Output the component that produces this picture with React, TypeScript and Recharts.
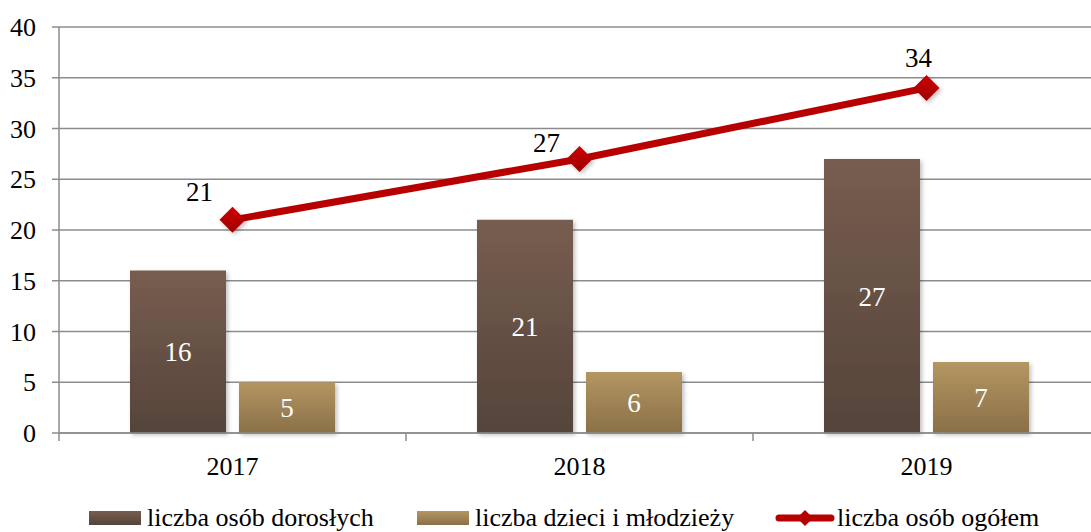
import { ComposedChart, Bar, Line, XAxis, YAxis, CartesianGrid, LabelList } from "recharts";

const years = ["2017", "2018", "2019"];
const adults = [16, 21, 27];
const youth = [5, 6, 7];
const total = [21, 27, 34];
const yTicks = [0, 5, 10, 15, 20, 25, 30, 35, 40];

const data = years.map((year, i) => ({ year, adults: adults[i], youth: youth[i], total: total[i] }));

const W = 1100;
const H = 532;
const LEFT = 59;
const BAND = (W - LEFT) / years.length;
const FONT = "Liberation Serif";
const GRID = "#8c8c8c";
const RED = "#b80000";

// where Excel put the line labels, relative to the point
const LINE_LABEL_OFFSETS = [
  { dx: -33, dy: -28 },
  { dx: -33, dy: -16 },
  { dx: -8, dy: -30 },
];

function YearTick(props: any) {
  const { x, y, payload, index } = props;
  return (
    <g>
      <line x1={x - BAND / 2} x2={x - BAND / 2} y1={y} y2={y + 8} stroke={GRID} strokeWidth={1.5} />
      {index === years.length - 1 && (
        <line x1={x + BAND / 2} x2={x + BAND / 2} y1={y} y2={y + 8} stroke={GRID} strokeWidth={1.5} />
      )}
      <text x={x} y={y + 33} textAnchor="middle" dominantBaseline="central" fontSize={26} fill="#000" style={{ fontFamily: FONT }}>
        {payload.value}
      </text>
    </g>
  );
}

function Diamond(props: any) {
  const { cx, cy } = props;
  if (cx == null || cy == null) return null;
  const r = 13;
  return (
    <polygon
      points={`${cx},${cy - r} ${cx + r},${cy} ${cx},${cy + r} ${cx - r},${cy}`}
      fill="url(#redGrad)"
      filter="url(#shadow)"
    />
  );
}

function LineLabel(props: any) {
  const { x, y, value, index } = props;
  const off = LINE_LABEL_OFFSETS[index] ?? { dx: 0, dy: -28 };
  return (
    <text x={x + off.dx} y={y + off.dy} textAnchor="middle" dominantBaseline="central" fontSize={27} fill="#000" style={{ fontFamily: FONT }}>
      {value}
    </text>
  );
}

function LegendBox({ left, color, label }: { left: number; color: string; label: string }) {
  return (
    <div style={{ position: "absolute", left, top: 503, display: "flex", alignItems: "center", height: 30 }}>
      <div style={{ width: 52, height: 14, background: color, marginRight: 6 }} />
      <span style={{ fontSize: 26, fontFamily: FONT, color: "#000", whiteSpace: "nowrap" }}>{label}</span>
    </div>
  );
}

export default function App() {
  return (
    <div style={{ position: "absolute", left: 0, top: 0, width: 1091, height: H, overflow: "hidden", background: "#fff", fontFamily: FONT }}>
      <ComposedChart width={W} height={H} data={data} margin={{ top: 27, right: 0, left: 0, bottom: 49 }} barGap={13} style={{ fontFamily: FONT }}>
        <defs>
          <linearGradient id="darkGrad" x1="0" y1="0" x2="0" y2="1">
            <stop offset="0%" stopColor="#775d50" />
            <stop offset="100%" stopColor="#55443a" />
          </linearGradient>
          <linearGradient id="lightGrad" x1="0" y1="0" x2="0" y2="1">
            <stop offset="0%" stopColor="#b49662" />
            <stop offset="100%" stopColor="#8a7048" />
          </linearGradient>
          <linearGradient id="redGrad" x1="0" y1="0" x2="0" y2="1">
            <stop offset="0%" stopColor="#d00000" />
            <stop offset="100%" stopColor="#9c0000" />
          </linearGradient>
          <filter id="shadow" x="-20%" y="-20%" width="140%" height="140%">
            <feDropShadow dx="2" dy="2" stdDeviation="2" floodColor="#000" floodOpacity="0.25" />
          </filter>
        </defs>
        <CartesianGrid vertical={false} stroke={GRID} strokeWidth={1.5} />
        <XAxis
          dataKey="year"
          axisLine={{ stroke: GRID, strokeWidth: 1.5 }}
          tickLine={false}
          tickSize={0}
          tickMargin={0}
          height={50}
          tick={<YearTick />}
          interval={0}
        />
        <YAxis
          domain={[0, 40]}
          ticks={yTicks}
          width={LEFT}
          tickSize={7}
          tickMargin={16}
          axisLine={{ stroke: GRID, strokeWidth: 1.5 }}
          tickLine={{ stroke: GRID, strokeWidth: 1.5 }}
          tick={{ fontSize: 26, fill: "#000", style: { fontFamily: FONT } }}
          interval={0}
        />
        <Bar dataKey="adults" barSize={96} fill="url(#darkGrad)" filter="url(#shadow)" isAnimationActive={false}>
          <LabelList dataKey="adults" position="center" fill="#fff" fontSize={27} style={{ fontFamily: FONT }} />
        </Bar>
        <Bar dataKey="youth" barSize={96} fill="url(#lightGrad)" filter="url(#shadow)" isAnimationActive={false}>
          <LabelList dataKey="youth" position="center" fill="#fff" fontSize={27} style={{ fontFamily: FONT }} />
        </Bar>
        <Line
          dataKey="total"
          stroke={RED}
          strokeWidth={7}
          dot={<Diamond />}
          activeDot={false}
          isAnimationActive={false}
        >
          <LabelList dataKey="total" content={<LineLabel />} />
        </Line>
      </ComposedChart>
      <LegendBox left={89} color="linear-gradient(#775d50, #55443a)" label="liczba osób dorosłych" />
      <LegendBox left={417} color="linear-gradient(#b49662, #8a7048)" label="liczba dzieci i młodzieży" />
      <div style={{ position: "absolute", left: 775, top: 503, display: "flex", alignItems: "center", height: 30 }}>
        <svg width={60} height={20} style={{ marginRight: 2 }}>
          <line x1={4} x2={56} y1={10} y2={10} stroke={RED} strokeWidth={7} strokeLinecap="round" />
          <polygon points="30,2 38,10 30,18 22,10" fill={RED} />
        </svg>
        <span style={{ fontSize: 26, fontFamily: FONT, color: "#000", whiteSpace: "nowrap" }}>liczba osób ogółem</span>
      </div>
    </div>
  );
}
